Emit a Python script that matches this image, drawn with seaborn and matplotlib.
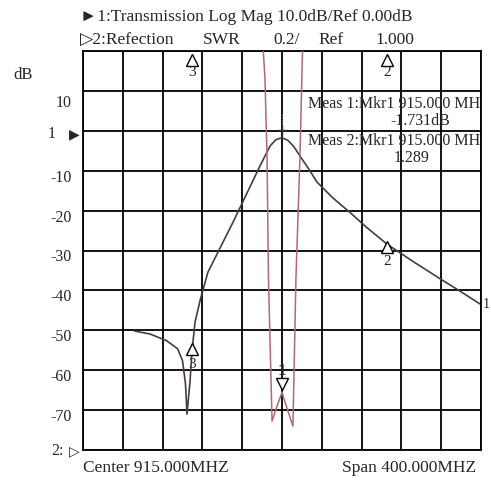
import matplotlib
matplotlib.use('Agg')
import matplotlib.pyplot as plt
import matplotlib.transforms as mtransforms
import numpy as np
import seaborn as sns

# trace 1: transmission, log mag (dB) vs frequency (MHz)
trans_freq = [767, 782, 799, 810, 815, 818, 819.5, 822.5, 824.5, 827.6, 833, 840.6,
              865.8, 892.9, 903, 909, 915, 921, 927, 933, 942, 950, 966, 983, 1000,
              1020.5, 1047, 1074, 1094, 1114]
trans_db = [-50.2, -50.9, -52.6, -54.6, -57.6, -63.4, -71.0, -63.0, -55.4, -47.9, -42.2, -35.4,
            -22.9, -8.8, -3.8, -2.2, -1.73, -2.4, -4.0, -6.3, -9.6, -12.8, -16.8, -20.4, -24.2,
            -28.4, -32.8, -37.1, -40.2, -43.4]

# trace 2: reflection, SWR vs frequency (MHz)
swr_freq = [895, 897.9, 900, 901.4, 905, 910, 915, 920, 926, 929, 933, 935.5, 937]
swr_vals = [3.1, 2.86, 2.46, 1.86, 1.145, 1.22, 1.289, 1.21, 1.12, 1.86, 2.46, 2.98, 3.2]

# markers
mkr_labels = ['1', '2', '3']
mkr_freq = [915, 1020.5, 825]

db_ticks = [-70, -60, -50, -40, -30, -20, -10, 10]
center_mhz = 915
span_mhz = 400

W, H = 491, 485
SERIF = ['Liberation Serif', 'DejaVu Sans']

sns.set_style('white')
plt.rcParams['font.family'] = SERIF


def px(x, y):
    return x / W, 1 - y / H


fig = plt.figure(figsize=(W / 100, H / 100), dpi=100)
ax = fig.add_axes([83 / W, 1 - 451 / H, 398 / W, 399 / H])

f0 = center_mhz - span_mhz / 2
f1 = center_mhz + span_mhz / 2
ax.set_xlim(f0, f1)
ax.set_ylim(-80, 20)
ax.set_xticks(np.linspace(f0, f1, 11))
ax.set_yticks(range(-80, 21, 10))
ax.set_xticklabels([])
ax.set_yticklabels([str(t) if t in db_ticks else '' for t in range(-80, 21, 10)])
ax.tick_params(length=0, labelsize=11.5, pad=8)
ax.grid(True, color='black', lw=1.3)
for s in ax.spines.values():
    s.set_color('black')
    s.set_linewidth(1.3)
for lab in ax.get_yticklabels():
    shift = -0.09 if lab.get_text() == '10' else -0.04
    lab.set_transform(lab.get_transform() + mtransforms.ScaledTranslation(0, shift, fig.dpi_scale_trans))

sns.lineplot(x=trans_freq, y=trans_db, ax=ax, color='#4a3c3c', lw=1.2)

ax2 = ax.twinx()
ax2.set_ylim(1.0, 3.0)
ax2.set_axis_off()
sns.lineplot(x=swr_freq, y=swr_vals, ax=ax2, color='#b06a74', lw=1.1)

# stimulus markers along the top of the grid
top = ax.get_xaxis_transform()
for lab, f in zip(mkr_labels[1:], mkr_freq[1:]):
    ax.plot(f, 0.977, transform=top, marker='^', ms=8, mfc='none', mec='black', mew=1)
    ax.text(f, 0.949, lab, transform=top, ha='center', va='center', fontsize=11)

# markers on trace 1
for lab, f in zip(mkr_labels[1:], mkr_freq[1:]):
    v = np.interp(f, trans_freq, trans_db)
    ax.plot(f, v - 0.6, marker='^', ms=8, mfc='white', mec='black', mew=1)
    ax.annotate(lab, (f, v), xytext=(0, -12), textcoords='offset points',
                ha='center', va='center', fontsize=11)
pk = np.interp(mkr_freq[0], trans_freq, trans_db)
ax.plot(mkr_freq[0], pk + 2, marker='+', ms=7, color='#333333', mew=1)
ax.plot([mkr_freq[0]] * 2, [pk + 3.5, pk + 6], color='#777777', lw=0.8, ls=':')

# marker 1 on trace 2
sw = np.interp(mkr_freq[0], swr_freq, swr_vals)
ax2.plot(mkr_freq[0], sw + 0.04, marker='v', ms=8, mfc='white', mec='black', mew=1)
ax2.annotate('1', (mkr_freq[0], sw), xytext=(0, 16), textcoords='offset points',
             ha='center', va='center', fontsize=12, fontweight='bold')

# end-of-trace marker
ax.annotate('1', (trans_freq[-1], trans_db[-1]), xytext=(2, 0), textcoords='offset points',
            ha='left', va='center', fontsize=10, annotation_clip=False)

# measurement readouts (clipped at the grid edge like the analyser screen)
meas = [(941, 7.0, 'left', 'Meas 1:Mkr1 915.000 MHz'),
        (1054, 2.7, 'center', '%.3fdB' % -1.731),
        (941, -2.3, 'left', 'Meas 2:Mkr1 915.000 MHz'),
        (1045, -6.6, 'center', '%.3f' % 1.289)]
for x, y, ha, s in meas:
    ax.text(x, y, s, ha=ha, va='center', fontsize=11.5, clip_on=True)

# header and axis annotations
fig.text(*px(80, 17), '\u25ba1:Transmission Log Mag 10.0dB/Ref 0.00dB', fontsize=12.5,
         va='center', ha='left', family=SERIF)
fig.text(*px(80, 40), '\u25b72:Refection', fontsize=12.5, va='center', ha='left', family=SERIF)
fig.text(*px(203, 40), 'SWR', fontsize=12.5, va='center', ha='left')
fig.text(*px(273, 40), '0.2/', fontsize=12.5, va='center', ha='left')
fig.text(*px(318, 40), 'Ref', fontsize=12.5, va='center', ha='left')
fig.text(*px(375, 40), '1.000', fontsize=12.5, va='center', ha='left')

fig.text(*px(13, 75), 'dB', fontsize=12, va='center', ha='left')
fig.text(*px(48, 134), '1', fontsize=11.5, va='center', ha='left')
fig.text(*px(69, 134), '\u25b6', fontsize=10, va='center', ha='left', family=['DejaVu Sans'])
fig.text(*px(51, 451), '2:', fontsize=11.5, va='center', ha='left')
fig.text(*px(69, 451), '\u25b7', fontsize=10, va='center', ha='left', family=['DejaVu Sans'])

fig.text(*px(83, 468), 'Center %.3fMHZ' % center_mhz, fontsize=12.5, va='center', ha='left')
fig.text(*px(476, 468), 'Span %.3fMHZ' % span_mhz, fontsize=12.5, va='center', ha='right')

fig.savefig('out.png', dpi=100, facecolor='white')
